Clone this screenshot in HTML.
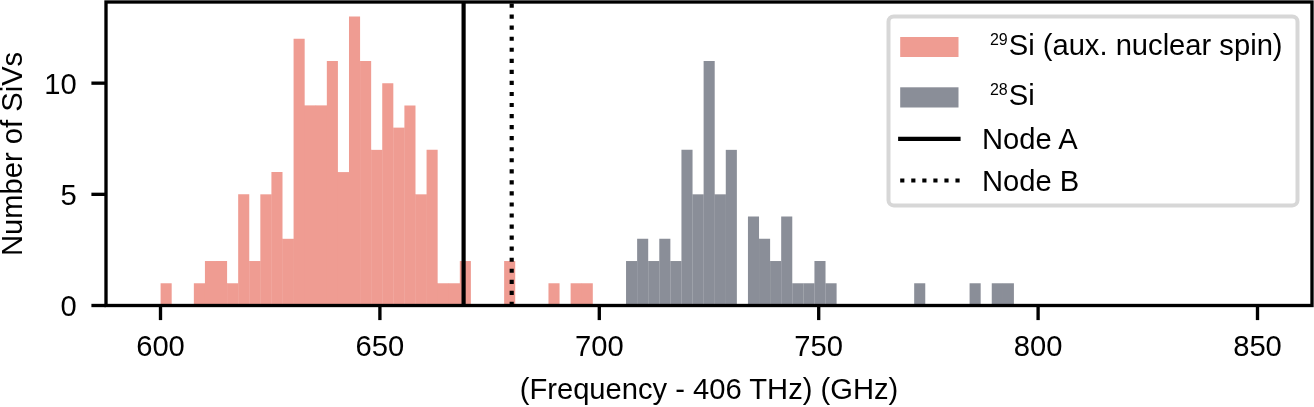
<!DOCTYPE html>
<html lang="en"><head><meta charset="utf-8"><title>SiV frequency histogram</title>
<style>html,body{margin:0;padding:0;background:#fff;}svg{display:block;}text{font-family:"Liberation Sans",sans-serif;fill:#000;}</style>
</head><body>
<svg width="1314" height="407" viewBox="0 0 1314 407" font-size="29.17">
<rect x="0" y="0" width="1314" height="407" fill="#fff"/>
<g fill="#ef9c92">
<rect x="160.60" y="283.27" width="11.082" height="22.23"/>
<rect x="193.85" y="283.27" width="11.432" height="22.23"/>
<rect x="204.93" y="261.03" width="11.432" height="44.47"/>
<path d="M216.01 305.50V261.03H227.09V283.27H227.44V305.50Z"/>
<rect x="227.09" y="283.27" width="11.432" height="22.23"/>
<path d="M238.17 305.50V194.33H249.26V261.03H249.61V305.50Z"/>
<rect x="249.26" y="261.03" width="11.432" height="44.47"/>
<rect x="260.34" y="194.33" width="11.432" height="111.17"/>
<path d="M271.42 305.50V172.10H282.50V238.80H282.85V305.50Z"/>
<rect x="282.50" y="238.80" width="11.432" height="66.70"/>
<path d="M293.58 305.50V38.69H304.67V105.39H305.02V305.50Z"/>
<rect x="304.67" y="105.39" width="11.432" height="200.11"/>
<rect x="315.75" y="105.39" width="11.432" height="200.11"/>
<path d="M326.83 305.50V60.93H337.91V172.10H338.26V305.50Z"/>
<rect x="337.91" y="172.10" width="11.432" height="133.40"/>
<path d="M348.99 305.50V16.46H360.08V60.93H360.43V305.50Z"/>
<path d="M360.08 305.50V60.93H371.16V149.86H371.51V305.50Z"/>
<rect x="371.16" y="149.86" width="11.432" height="155.64"/>
<path d="M382.24 305.50V83.16H393.32V127.63H393.67V305.50Z"/>
<rect x="393.32" y="127.63" width="11.432" height="177.87"/>
<path d="M404.40 305.50V105.39H415.49V194.33H415.84V305.50Z"/>
<rect x="415.49" y="194.33" width="11.432" height="111.17"/>
<path d="M426.57 305.50V149.86H437.65V283.27H438.00V305.50Z"/>
<rect x="437.65" y="283.27" width="11.432" height="22.23"/>
<rect x="448.73" y="283.27" width="11.432" height="22.23"/>
<rect x="459.81" y="261.03" width="11.082" height="44.47"/>
<rect x="504.14" y="261.03" width="11.082" height="44.47"/>
<rect x="548.47" y="283.27" width="11.082" height="22.23"/>
<rect x="570.63" y="283.27" width="11.432" height="22.23"/>
<rect x="581.72" y="283.27" width="11.082" height="22.23"/>
</g>
<g fill="#8a8e98">
<rect x="626.04" y="261.03" width="11.232" height="44.47"/>
<path d="M637.13 305.50V238.80H648.21V261.03H648.36V305.50Z"/>
<rect x="648.21" y="261.03" width="11.232" height="44.47"/>
<path d="M659.29 305.50V238.80H670.37V261.03H670.52V305.50Z"/>
<rect x="670.37" y="261.03" width="11.232" height="44.47"/>
<path d="M681.45 305.50V149.86H692.54V194.33H692.69V305.50Z"/>
<rect x="692.54" y="194.33" width="11.232" height="111.17"/>
<path d="M703.62 305.50V60.93H714.70V194.33H714.85V305.50Z"/>
<rect x="714.70" y="194.33" width="11.232" height="111.17"/>
<rect x="725.78" y="149.86" width="11.082" height="155.64"/>
<path d="M747.95 305.50V216.56H759.03V238.80H759.18V305.50Z"/>
<path d="M759.03 305.50V238.80H770.11V261.03H770.26V305.50Z"/>
<rect x="770.11" y="261.03" width="11.232" height="44.47"/>
<path d="M781.19 305.50V216.56H792.27V283.27H792.42V305.50Z"/>
<rect x="792.27" y="283.27" width="11.232" height="22.23"/>
<rect x="803.36" y="283.27" width="11.232" height="22.23"/>
<path d="M814.44 305.50V261.03H825.52V283.27H825.67V305.50Z"/>
<rect x="825.52" y="283.27" width="11.082" height="22.23"/>
<rect x="914.18" y="283.27" width="11.082" height="22.23"/>
<rect x="969.59" y="283.27" width="11.082" height="22.23"/>
<rect x="991.75" y="283.27" width="11.232" height="22.23"/>
<rect x="1002.83" y="283.27" width="11.082" height="22.23"/>
</g>
<line x1="463.6" y1="305.5" x2="463.6" y2="2" stroke="#000" stroke-width="4.17"/>
<line x1="511.7" y1="306" x2="511.7" y2="2" stroke="#000" stroke-width="4.17" stroke-dasharray="4.17 6.88"/>
<g stroke="#000" stroke-width="3.33" fill="none">
<line x1="160.50" y1="305.5" x2="160.50" y2="320.1"/>
<line x1="379.90" y1="305.5" x2="379.90" y2="320.1"/>
<line x1="599.30" y1="305.5" x2="599.30" y2="320.1"/>
<line x1="818.70" y1="305.5" x2="818.70" y2="320.1"/>
<line x1="1038.10" y1="305.5" x2="1038.10" y2="320.1"/>
<line x1="1257.50" y1="305.5" x2="1257.50" y2="320.1"/>
<line x1="106" y1="305.50" x2="91.4" y2="305.50"/>
<line x1="106" y1="194.33" x2="91.4" y2="194.33"/>
<line x1="106" y1="83.16" x2="91.4" y2="83.16"/>
<rect x="106" y="2" width="1206" height="303.5" stroke-linejoin="miter"/>
</g>
<g text-anchor="middle">
<text x="160.50" y="355.6">600</text>
<text x="379.90" y="355.6">650</text>
<text x="599.30" y="355.6">700</text>
<text x="818.70" y="355.6">750</text>
<text x="1038.10" y="355.6">800</text>
<text x="1257.50" y="355.6">850</text>
</g>
<g text-anchor="end">
<text x="76.8" y="315.90">0</text>
<text x="76.8" y="204.73">5</text>
<text x="76.8" y="93.56">10</text>
</g>
<text x="709" y="399.4" text-anchor="middle">(Frequency - 406 THz) (GHz)</text>
<text transform="translate(22.4 153.9) rotate(-90)" text-anchor="middle">Number of SiVs</text>
<rect x="888.5" y="16.5" width="409" height="188.9" rx="5.2" ry="5.2" fill="#fff" fill-opacity="0.8" stroke="#d7d7d7" stroke-width="4"/>
<rect x="900.2" y="37" width="58.3" height="20" fill="#ef9c92"/>
<rect x="900.2" y="87.3" width="58.3" height="20.2" fill="#8a8e98"/>
<line x1="900.2" y1="138.8" x2="958.5" y2="138.8" stroke="#000" stroke-width="4.17" stroke-linecap="square"/>
<line x1="900.2" y1="180.5" x2="960" y2="180.5" stroke="#000" stroke-width="4.17" stroke-dasharray="4.17 6.88"/>
<text x="989.9" y="54.7"><tspan font-size="16" dy="-10.1">29</tspan><tspan dy="10.1" dx="1">Si (aux. nuclear spin)</tspan></text>
<text x="989.9" y="105.1"><tspan font-size="16" dy="-10.1">28</tspan><tspan dy="10.1" dx="1">Si</tspan></text>
<text x="982" y="148.8">Node A</text>
<text x="982" y="190.6">Node B</text>
</svg>
</body></html>
